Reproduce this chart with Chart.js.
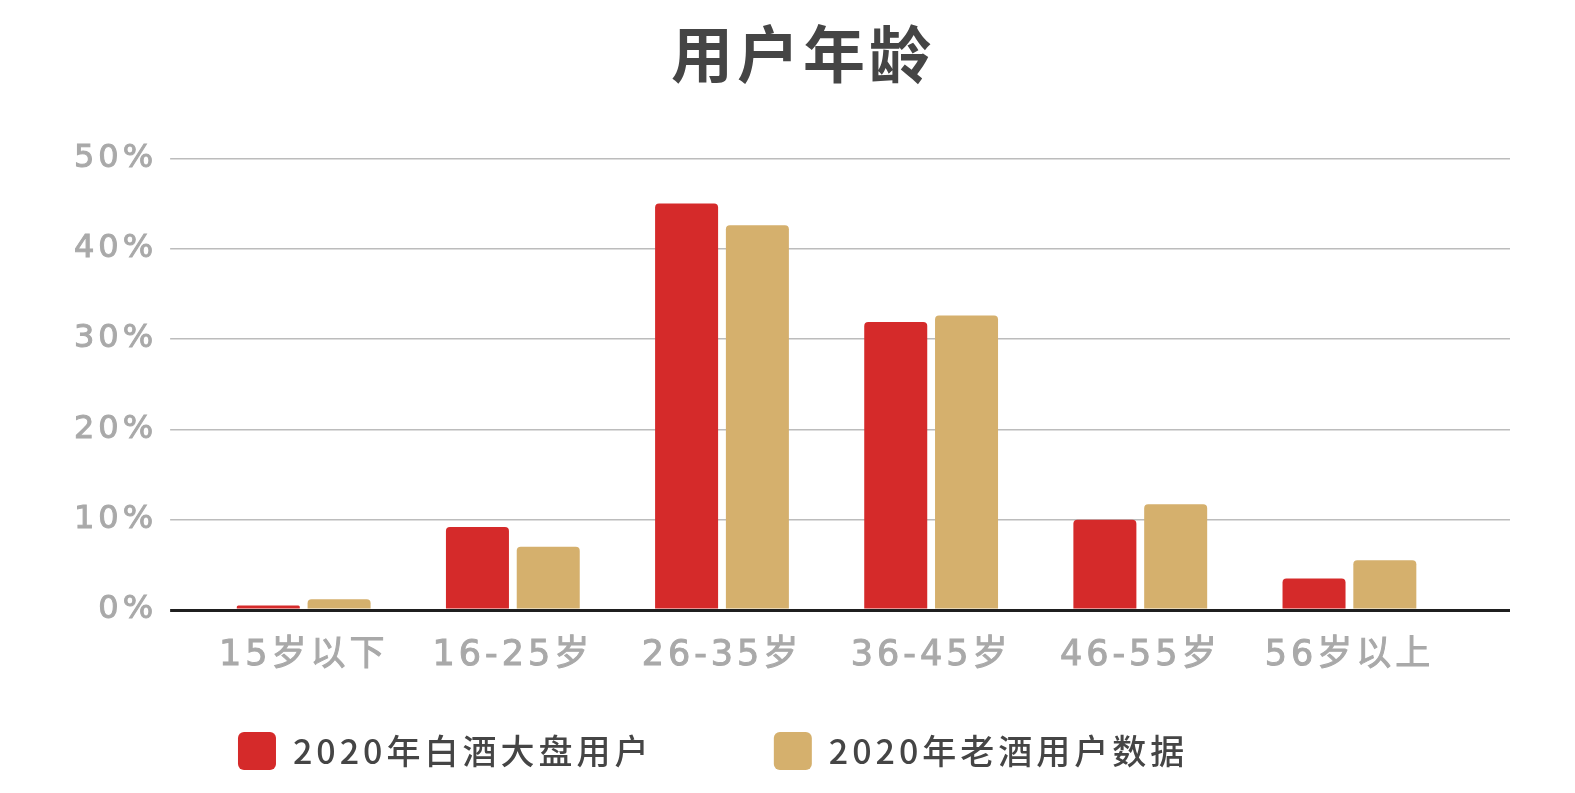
<!DOCTYPE html>
<html>
<head>
<meta charset="utf-8">
<script src="https://cdn.jsdelivr.net/npm/chart.js@4.4.1/dist/chart.umd.min.js"></script>
<style>
  html, body { margin: 0; padding: 0; background: #fff; }
  #wrap { width: 1575px; height: 793px; }
</style>
</head>
<body>
<div id="wrap"><canvas id="age-chart"></canvas></div>
<script>
var categories = ['15岁以下', '16-25岁', '26-35岁', '36-45岁', '46-55岁', '56岁以上'];
var seriesNames = ['2020年白酒大盘用户', '2020年老酒用户数据'];
var marketUsers = [0.5, 9.2, 45.0, 31.9, 10.0, 3.5];
var oldLiquorUsers = [1.2, 7.0, 42.6, 32.6, 11.7, 5.5];
var yTicks = [0, 10, 20, 30, 40, 50];

var red = '#d52a2a';
var tan = '#d5b06d';
var grey = '#a9a9a9';
var dark = '#454545';

// canvas letter spacing, the reference text is set a bit loose
var spacing = {
  id: 'spacing',
  beforeLayout: function (chart) { chart.ctx.letterSpacing = '4px'; },
  beforeDraw: function (chart) { chart.ctx.letterSpacing = '4px'; }
};

var gridColor = function (c) { return c.tick && c.tick.value === 0 ? '#1f1f1f' : '#bcbcbc'; };
var gridWidth = function (c) { return c.tick && c.tick.value === 0 ? 3 : 1.5; };

var ctx = document.getElementById('age-chart').getContext('2d');

var chart = new Chart(ctx, {
  type: 'bar',
  data: {
    labels: categories,
    datasets: [
      {
        label: seriesNames[0],
        data: marketUsers,
        backgroundColor: red,
        borderRadius: 4,
        categoryPercentage: 0.677,
        barPercentage: 0.89
      },
      {
        label: seriesNames[1],
        data: oldLiquorUsers,
        backgroundColor: tan,
        borderRadius: 4,
        categoryPercentage: 0.677,
        barPercentage: 0.89
      }
    ]
  },
  options: {
    responsive: true,
    maintainAspectRatio: false,
    animation: false,
    layout: { padding: { left: 61, right: 65, top: 0, bottom: 13 } },
    plugins: {
      title: {
        display: true,
        text: '\u2002用户年龄',
        color: dark,
        font: { family: "'Noto Sans CJK SC'", size: 62, weight: 'bold' },
        padding: { top: 17, bottom: 67 }
      },
      legend: {
        position: 'bottom',
        labels: {
          color: dark,
          font: { family: "'Noto Sans CJK SC'", size: 34, weight: '500' },
          boxWidth: 38,
          boxHeight: 38,
          useBorderRadius: true,
          borderRadius: 6,
          padding: 30,
          generateLabels: function (ch) {
            var items = Chart.defaults.plugins.legend.labels.generateLabels(ch);
            items[0].text += '\u3000\u3000\u2004';
            items[1].text += '\u3000\u3000\u3000\u2004\u2004';
            items.forEach(function (it) { it.lineWidth = 0; });
            return items;
          }
        }
      },
      tooltip: { enabled: false }
    },
    scales: {
      x: {
        grid: { display: false, drawTicks: false },
        border: { display: false },
        ticks: {
          color: grey,
          padding: 25,
          textStrokeColor: grey,
          textStrokeWidth: 1,
          font: { family: "'DejaVu Sans', 'Noto Sans CJK SC'", size: 35 }
        }
      },
      y: {
        min: yTicks[0],
        max: yTicks[yTicks.length - 1],
        border: { display: false },
        grid: { color: gridColor, lineWidth: gridWidth, tickLength: 29 },
        ticks: {
          stepSize: 10,
          color: grey,
          padding: 13,
          textStrokeColor: grey,
          textStrokeWidth: 1,
          font: { family: "'DejaVu Sans', 'Noto Sans CJK SC'", size: 32 },
          callback: function (v) { return v + '%'; }
        }
      },
      y2: {
        position: 'right',
        min: yTicks[0],
        max: yTicks[yTicks.length - 1],
        border: { display: false },
        grid: { color: gridColor, lineWidth: gridWidth, tickLength: 56, drawOnChartArea: false },
        ticks: { stepSize: 10, display: false }
      }
    }
  },
  plugins: [spacing]
});
</script>
</body>
</html>
